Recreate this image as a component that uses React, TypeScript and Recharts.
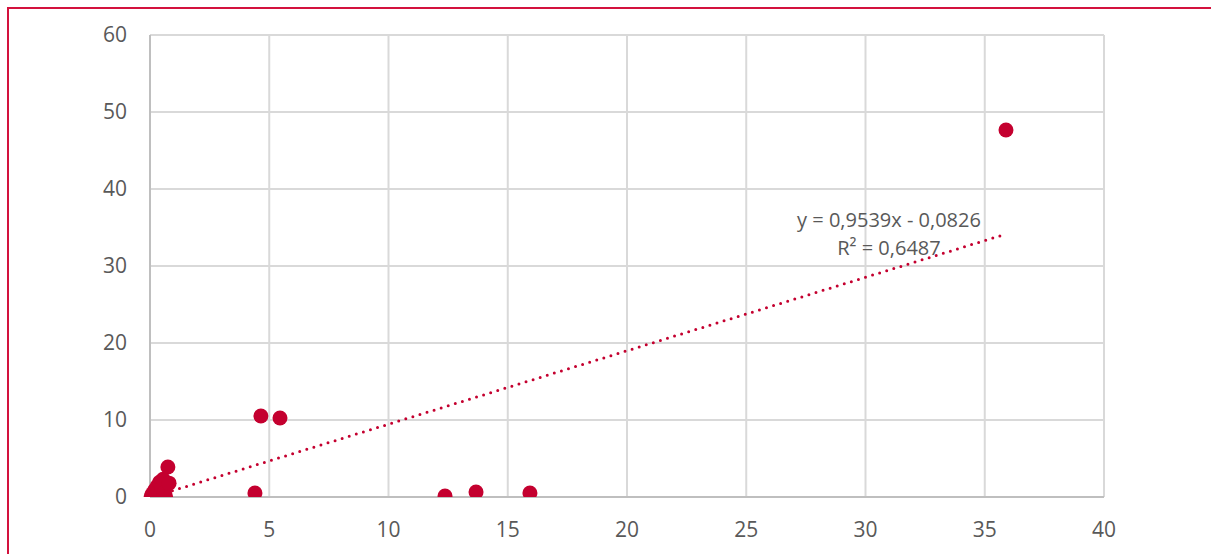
import React from "react";
import {
  ComposedChart,
  Scatter,
  XAxis,
  YAxis,
  CartesianGrid,
} from "recharts";

const xValues = [
  0.05, 0.1, 0.15, 0.2, 0.25, 0.3, 0.35, 0.4, 0.45, 0.5, 0.55, 0.6, 0.65, 0.75, 0.8,
  4.4, 4.65, 5.45, 12.37, 13.67, 15.93, 35.89,
];
const yValues = [
  0.1, 0.4, 0.05, 0.9, 0.2, 1.4, 0.7, 1.9, 0.3, 1.2, 2.3, 0.6, 0.1, 3.9, 1.8,
  0.52, 10.52, 10.26, 0.13, 0.65, 0.52, 47.66,
];

const xTicks = [0, 5, 10, 15, 20, 25, 30, 35, 40];
const yTicks = [0, 10, 20, 30, 40, 50, 60];

// linear trendline as printed on the chart
const slope = 0.9539;
const intercept = -0.0826;
const trendLabel = "y = 0,9539x - 0,0826";
const r2Label = "R² = 0,6487";

const points = xValues.map((x, i) => ({ x, y: yValues[i] }));
const minX = Math.min(...xValues);
const maxX = Math.max(...xValues);
const trend = [
  { x: minX, y: slope * minX + intercept },
  { x: maxX, y: slope * maxX + intercept },
];

const RED = "#c4002f";
const FRAME = "#d3123d";
const GRID = "#d9d9d9";
const TEXT = "#595959";
const FONT = "'Open Sans', sans-serif";

export default function App() {
  return (
    <div
      style={{
        position: "absolute",
        left: 0,
        top: 0,
        width: 1211,
        height: 554,
        overflow: "hidden",
        background: "#fff",
        fontFamily: FONT,
      }}
    >
      {/* red frame, only top and left edges visible */}
      <div
        style={{
          position: "absolute",
          left: 7,
          top: 7,
          width: 1300,
          height: 700,
          borderTop: `2px solid ${FRAME}`,
          borderLeft: `2px solid ${FRAME}`,
        }}
      />
      <ComposedChart
        width={1211}
        height={554}
        margin={{ top: 35, right: 107, bottom: 27, left: 90 }}
      >
        <CartesianGrid stroke={GRID} strokeWidth={2} />
        <XAxis
          type="number"
          dataKey="x"
          domain={[0, 40]}
          ticks={xTicks}
          height={30}
          axisLine={{ stroke: "#bfbfbf", strokeWidth: 2 }}
          tickLine={false}
          tickSize={0}
          tickMargin={25}
          tick={{ fill: TEXT, fontSize: 21, fontFamily: FONT }}
        />
        <YAxis
          type="number"
          dataKey="y"
          domain={[0, 60]}
          ticks={yTicks}
          width={60}
          allowDataOverflow
          axisLine={{ stroke: "#bfbfbf", strokeWidth: 2 }}
          tickLine={false}
          tickSize={0}
          tickMargin={23}
          tick={{ fill: TEXT, fontSize: 21, fontFamily: FONT }}
        />
        <Scatter
          data={points}
          fill={RED}
          isAnimationActive={false}
          shape={(p: any) => <circle cx={p.cx} cy={p.cy} r={7.5} fill={RED} />}
        />
        <Scatter
          data={trend}
          fill={RED}
          isAnimationActive={false}
          line={{
            stroke: RED,
            strokeWidth: 3,
            strokeDasharray: "0 7.4",
            strokeLinecap: "round",
          }}
          shape={() => <g />}
        />
      </ComposedChart>
      <div
        style={{
          position: "absolute",
          left: 789,
          top: 206,
          width: 200,
          textAlign: "center",
          color: TEXT,
          fontSize: 20,
          lineHeight: "28px",
        }}
      >
        <div>{trendLabel}</div>
        <div>{r2Label}</div>
      </div>
    </div>
  );
}
